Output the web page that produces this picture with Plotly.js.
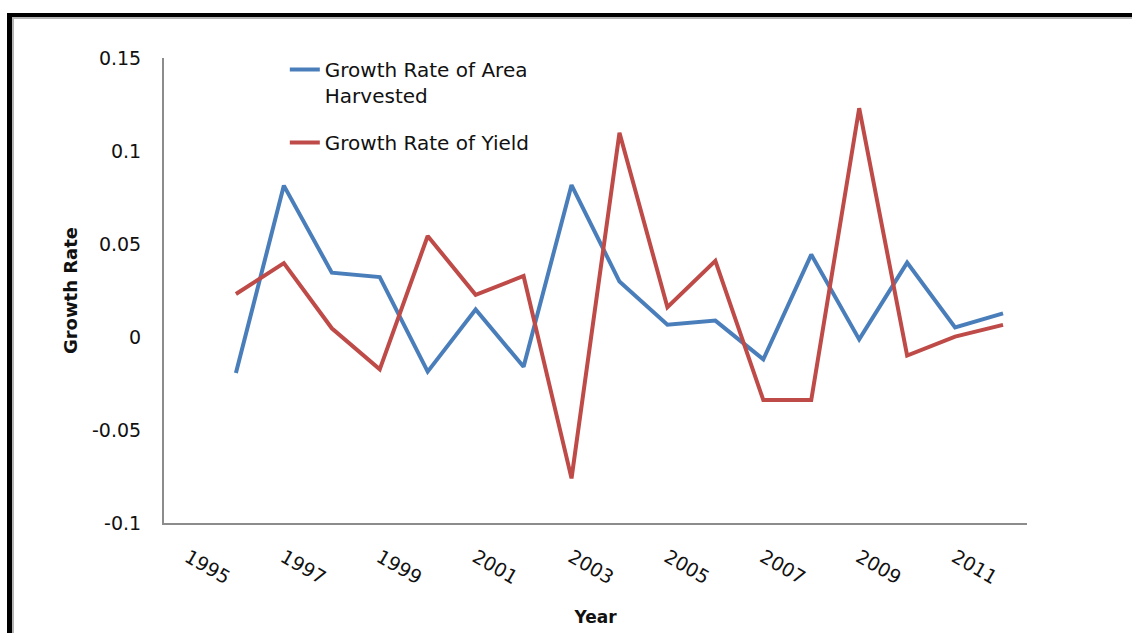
<!DOCTYPE html>
<html>
<head>
<meta charset="utf-8">
<script src="https://cdn.plot.ly/plotly-3.0.1.min.js"></script>
<style>
  html, body { margin: 0; padding: 0; background: #ffffff; }
  #frame { position: absolute; left: 7px; top: 13px; width: 1200px; height: 700px;
           border-top: 4px solid #000; border-left: 5px solid #000; z-index: 0; }
  #frame-inner { position: absolute; left: 0; top: 0; width: 100%; height: 100%;
           border-top: 2px solid #b4b4b4; border-left: 2px solid #b4b4b4; box-sizing: border-box; }
  #chart { position: absolute; left: 0; top: 0; width: 1132px; height: 633px; z-index: 1; }
</style>
</head>
<body>
<div id="frame"><div id="frame-inner"></div></div>
<div id="chart"></div>
<script>
// Data
const years = [1996, 1997, 1998, 1999, 2000, 2001, 2002, 2003, 2004, 2005, 2006, 2007, 2008, 2009, 2010, 2011, 2012];
const areaGrowth = [-0.0194, 0.0814, 0.0346, 0.0322, -0.0186, 0.0148, -0.0160, 0.0817, 0.0298, 0.0066, 0.0088, -0.0120, 0.0443, -0.0013, 0.0400, 0.0052, 0.0127];
const yieldGrowth = [0.0231, 0.0397, 0.0047, -0.0174, 0.0543, 0.0227, 0.0328, -0.0760, 0.1098, 0.0160, 0.0409, -0.0339, -0.0339, 0.1230, -0.0100, 0.0002, 0.0065];
const seriesNames = ["Growth Rate of Area<br>Harvested", "Growth Rate of Yield"];
const yTickVals = [-0.1, -0.05, 0, 0.05, 0.1, 0.15];
const yTickText = ["-0.1", "-0.05", "0", "0.05", "0.1", "0.15"];
const xTickVals = [1995, 1997, 1999, 2001, 2003, 2005, 2007, 2009, 2011];
const xTickText = ["1995", "1997", "1999", "2001", "2003", "2005", "2007", "2009", "2011"];

const traces = [
  { x: years, y: areaGrowth, name: seriesNames[0], type: "scatter", mode: "lines",
    line: { color: "#4A7EBB", width: 4 }, legendgroup: "a" },
  { x: years, y: yieldGrowth, name: seriesNames[1], type: "scatter", mode: "lines",
    line: { color: "#BE4B48", width: 4 }, legendgroup: "b" }
];

const layout = {
  width: 1132, height: 633,
  margin: { l: 164, r: 105, t: 58, b: 110 },
  paper_bgcolor: "rgba(0,0,0,0)",
  plot_bgcolor: "rgba(0,0,0,0)",
  font: { family: "DejaVu Sans", color: "#111111" },
  showlegend: true,
  legend: {
    x: 0.14, xanchor: "left", y: 1.017, yanchor: "top",
    valign: "top", bgcolor: "rgba(0,0,0,0)", tracegroupgap: 18,
    font: { family: "DejaVu Sans", size: 20, color: "#111111" }
  },
  xaxis: {
    range: [1994.5, 2012.5],
    tickmode: "array", tickvals: xTickVals, ticktext: xTickText,
    tickangle: 30, ticks: "", showgrid: false, zeroline: false,
    showline: true, linecolor: "#8c8c8c", linewidth: 2,
    ticklabelstandoff: 14,
    tickfont: { family: "DejaVu Sans", size: 19, color: "#111111" },
    title: { text: "Year", standoff: 24, font: { family: "DejaVu Sans", size: 17, weight: "bold", color: "#111111" } }
  },
  yaxis: {
    range: [-0.1, 0.15],
    tickmode: "array", tickvals: yTickVals, ticktext: yTickText,
    ticks: "", showgrid: false, zeroline: false,
    showline: true, linecolor: "#8c8c8c", linewidth: 2,
    ticklabelstandoff: 17,
    tickfont: { family: "DejaVu Sans", size: 19, color: "#111111" },
    title: { text: "Growth Rate", standoff: 10, font: { family: "DejaVu Sans", size: 18, weight: "bold", color: "#111111" } }
  }
};

Plotly.newPlot("chart", traces, layout, { displayModeBar: false, staticPlot: true });
</script>
</body>
</html>
